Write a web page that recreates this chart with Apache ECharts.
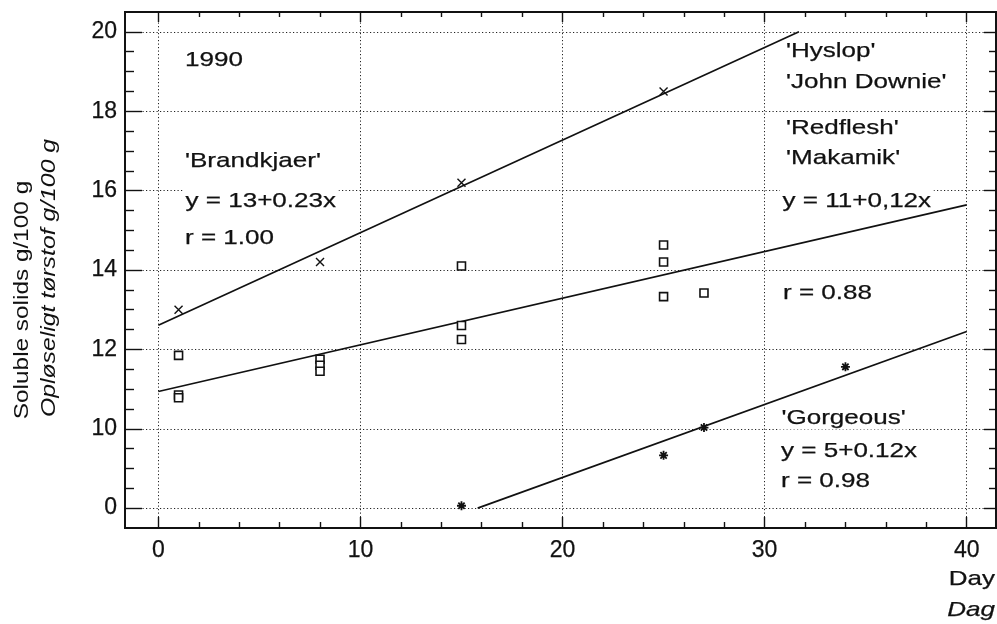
<!DOCTYPE html>
<html>
<head>
<meta charset="utf-8">
<script src="https://cdn.jsdelivr.net/npm/echarts@6/dist/echarts.min.js"></script>
<style>
  html, body { margin: 0; padding: 0; background: #fff; }
  #chart { width: 997px; height: 624px; }
</style>
</head>
<body>
<div id="chart"></div>
<script>
// Soluble solids over storage days, 1990, three cultivar groups.
// The y scale is broken below 10: the bottom grid line is labelled 0.

// 'Hyslop' / 'John Downie' (x markers)
const hyslopDays = [1, 8, 15, 25];
const hyslopVals = [13.0, 14.2, 16.2, 18.5];
// 'Redflesh' / 'Makamik' (open squares)
const redDays = [1, 1, 1, 8, 8, 8, 15, 15, 15, 25, 25, 25, 27];
const redVals = [11.85, 10.85, 10.78, 11.75, 11.6, 11.45, 14.1, 12.6, 12.25, 14.63, 14.2, 13.33, 13.42];
// 'Gorgeous' (asterisks), plotted on the broken part of the scale
const gorgDays = [15, 25, 27, 34];
const gorgVals = [8.06, 9.33, 10.03, 11.56];

// Fitted regression lines, drawn between these end points
const hyslopFitDays = [0, 31.7];
const hyslopFitVals = [12.61, 20.0];
const redFitDays = [0, 40];
const redFitVals = [10.94, 15.64];
const gorgFitDays = [15.8, 40];
const gorgFitVals = [8.0, 12.45];

// Axis ticks
const xTicks = [0, 10, 20, 30, 40];
const xMinorTicks = [2, 4, 6, 8, 12, 14, 16, 18, 22, 24, 26, 28, 32, 34, 36, 38];
const yTicks = [8, 10, 12, 14, 16, 18, 20];
const yTickLabels = ['0', '10', '12', '14', '16', '18', '20'];
const yMinorTicks = [8.5, 9, 9.5, 10.5, 11, 11.5, 12.5, 13, 13.5, 14.5, 15, 15.5,
                     16.5, 17, 17.5, 18.5, 19, 19.5];

const FONT = "'Liberation Sans', Arial, Helvetica, sans-serif";
const INK = '#111';
const WIDE = 1.24;   // horizontal stretch of the annotation lettering

const X_MIN = -1.65, X_MAX = 41.45;
const Y_MIN = 7.5, Y_MAX = 20.5;

const pairs = (xs, ys) => xs.map((x, i) => [x, ys[i]]);

const gridRect = { left: 125, top: 12, width: 871, height: 516 };

const tickLabelStyle = {
  color: INK, fontFamily: FONT, fontSize: 23,
  textBorderColor: INK, textBorderWidth: 0.25
};

function xAxisDef(gridIndex, position, ticks, tickLen, major) {
  return {
    type: 'value', gridIndex, position, min: X_MIN, max: X_MAX,
    axisLine: { show: true, onZero: false, lineStyle: { color: INK, width: 1.8 } },
    axisTick: { show: true, inside: true, length: tickLen, customValues: ticks,
                lineStyle: { color: INK, width: 1.4 } },
    axisLabel: (major && position === 'bottom')
      ? Object.assign({ show: true, customValues: ticks, margin: 11 }, tickLabelStyle)
      : { show: false },
    splitLine: (major && position === 'bottom') ? {
      show: true, lineStyle: { color: '#222', type: [1.2, 2.3], width: 1 }
    } : { show: false }
  };
}

function yAxisDef(gridIndex, position, ticks, tickLen, major) {
  return {
    type: 'value', gridIndex, position, min: Y_MIN, max: Y_MAX,
    axisLine: { show: true, onZero: false, lineStyle: { color: INK, width: 1.8 } },
    axisTick: { show: true, inside: true, length: tickLen, customValues: ticks,
                lineStyle: { color: INK, width: 1.4 } },
    axisLabel: (major && position === 'left')
      ? Object.assign({
          show: true, customValues: ticks, margin: 8,
          formatter: v => {
            const i = yTicks.indexOf(Math.round(v * 100) / 100);
            return i >= 0 ? yTickLabels[i] : '';
          }
        }, tickLabelStyle)
      : { show: false },
    splitLine: (major && position === 'left') ? {
      show: true, lineStyle: { color: '#222', type: [1.2, 2.3], width: 1 }
    } : { show: false }
  };
}

const crossPath = 'path://M0,0L10,10M10,0L0,10';
const starPath = 'path://M5,0L5,10M0,5L10,5M1.5,1.5L8.5,8.5M8.5,1.5L1.5,8.5';

function fitLine(name, xs, ys) {
  return {
    name, type: 'line', xAxisIndex: 0, yAxisIndex: 0,
    data: pairs(xs, ys), showSymbol: false, symbol: 'none',
    lineStyle: { color: INK, width: 1.7 }, silent: true, z: 3
  };
}

function scatter(name, xs, ys, symbol, size, fill, bw) {
  return {
    name, type: 'scatter', xAxisIndex: 0, yAxisIndex: 0,
    data: pairs(xs, ys), symbol, symbolSize: size,
    itemStyle: { color: fill, borderColor: INK, borderWidth: bw, opacity: 1 },
    z: 4
  };
}

function label(text, x, y, opts) {
  return Object.assign({
    type: 'text', x, y, z: 1, scaleX: WIDE,
    style: Object.assign({
      text, fill: INK, font: '21px ' + FONT,
      stroke: INK, lineWidth: 0.25,
      align: 'left', verticalAlign: 'middle'
    }, (opts && opts.style) || {})
  }, (opts && opts.el) || {});
}

const boxed = { style: { backgroundColor: '#fff', padding: [1, 2, 1, 2] } };

const option = {
  backgroundColor: '#fff',
  animation: false,
  grid: [
    Object.assign({}, gridRect, { containLabel: false }),
    Object.assign({}, gridRect, { containLabel: false })
  ],
  xAxis: [
    xAxisDef(0, 'bottom', xTicks, 11, true),
    xAxisDef(0, 'top', xTicks, 10, true),
    xAxisDef(1, 'bottom', xMinorTicks, 6, false),
    xAxisDef(1, 'top', xMinorTicks, 5, false)
  ],
  yAxis: [
    yAxisDef(0, 'left', yTicks, 17, true),
    yAxisDef(0, 'right', yTicks, 12, true),
    yAxisDef(1, 'left', yMinorTicks, 9, false),
    yAxisDef(1, 'right', yMinorTicks, 7, false)
  ],
  series: [
    fitLine('Hyslop fit', hyslopFitDays, hyslopFitVals),
    fitLine('Redflesh fit', redFitDays, redFitVals),
    fitLine('Gorgeous fit', gorgFitDays, gorgFitVals),
    scatter("'Hyslop' 'John Downie'", hyslopDays, hyslopVals, crossPath, 8, 'transparent', 1.4),
    scatter("'Redflesh' 'Makamik'", redDays, redVals, 'rect', 8, '#fff', 1.6),
    scatter("'Gorgeous'", gorgDays, gorgVals, starPath, 9, 'transparent', 1.8)
  ],
  graphic: [
    label('1990', 185, 60),
    label("'Brandkjaer'", 185, 161),
    label('y = 13+0.23x', 183, 201, boxed),
    label('r = 1.00', 185, 238),
    label("'Hyslop'", 786, 51),
    label("'John Downie'", 786, 82),
    label("'Redflesh'", 786, 128),
    label("'Makamik'", 786, 158),
    label('y = 11+0,12x', 780, 201, boxed),
    label('r = 0.88', 783, 293),
    label("'Gorgeous'", 779, 418, boxed),
    label('y = 5+0.12x', 781, 451),
    label('r = 0.98', 781, 481),
    label('Day', 995, 579, { style: { align: 'right' } }),
    label('Dag', 995, 610, { style: { align: 'right', font: 'italic 21px ' + FONT } }),
    label('Soluble solids g/100 g', 22, 300,
          { style: { align: 'center', font: '21px ' + FONT, lineWidth: 0 },
            el: { rotation: Math.PI / 2, scaleX: 1.16 } }),
    label('Opløseligt tørstof g/100 g', 49, 278,
          { style: { align: 'center', font: 'italic 21px ' + FONT, lineWidth: 0 },
            el: { rotation: Math.PI / 2, scaleX: 1.18 } })
  ]
};

const chart = echarts.init(document.getElementById('chart'), null, { renderer: 'canvas' });
chart.setOption(option);
</script>
</body>
</html>
